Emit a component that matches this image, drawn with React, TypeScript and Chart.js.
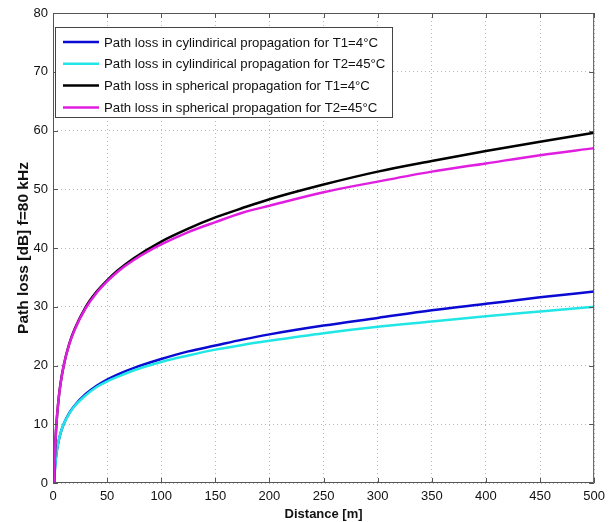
import React, { useEffect, useRef } from "react";
import { Chart, registerables } from "chart.js";

Chart.register(...registerables);

const distances = [1, 2, 3, 5, 7, 10, 15, 20, 30, 40, 50, 60, 75, 100, 125, 150, 175, 200, 250, 300, 350, 400, 450, 500];
const cylT1 = [0.0, 3.0, 4.8, 7.0, 8.5, 10.1, 11.9, 13.2, 15.1, 16.5, 17.6, 18.5, 19.6, 21.1, 22.4, 23.4, 24.4, 25.3, 26.8, 28.1, 29.4, 30.5, 31.6, 32.6];
const cylT2 = [0.0, 3.0, 4.8, 7.0, 8.5, 10.1, 11.8, 13.1, 14.9, 16.3, 17.3, 18.1, 19.2, 20.6, 21.7, 22.7, 23.5, 24.2, 25.5, 26.6, 27.5, 28.4, 29.2, 30.0];
const sphT1 = [0.0, 6.0, 9.6, 14.0, 17.0, 20.1, 23.7, 26.2, 29.9, 32.5, 34.5, 36.2, 38.3, 41.1, 43.3, 45.2, 46.8, 48.3, 50.8, 53.0, 54.8, 56.5, 58.1, 59.6];
const sphT2 = [0.0, 6.0, 9.6, 14.0, 16.9, 20.1, 23.6, 26.1, 29.7, 32.3, 34.3, 36.0, 38.0, 40.6, 42.7, 44.4, 46.0, 47.2, 49.5, 51.3, 53.0, 54.4, 55.8, 57.0];

const seriesLabels = [
  "Path loss in cylindirical propagation for T1=4°C",
  "Path loss in cylindirical propagation for T2=45°C",
  "Path loss in spherical propagation for T1=4°C",
  "Path loss in spherical propagation for T2=45°C",
];
const seriesColors = ["#0a0ad2", "#22e6e6", "#000000", "#e01ee0"];
const seriesValues = [cylT1, cylT2, sphT1, sphT2];

const xTicks = [0, 50, 100, 150, 200, 250, 300, 350, 400, 450, 500];
const yTicks = [0, 10, 20, 30, 40, 50, 60, 70, 80];

const FONT = "'Liberation Sans', Arial, sans-serif";

const framePlugin = {
  id: "frameAndLegend",
  afterDraw(chart: any) {
    const { ctx, chartArea } = chart;
    const { left, right, top, bottom } = chartArea;
    const xs = chart.scales.x;
    const ys = chart.scales.y;
    ctx.save();
    ctx.strokeStyle = "#555555";
    ctx.lineWidth = 1;
    ctx.beginPath();
    ctx.rect(left + 0.5, top + 0.5, right - left - 1, bottom - top - 1);
    ctx.stroke();
    ctx.beginPath();
    for (const t of xTicks) {
      const px = Math.round(xs.getPixelForValue(t)) + 0.5;
      ctx.moveTo(px, bottom);
      ctx.lineTo(px, bottom - 5);
      ctx.moveTo(px, top);
      ctx.lineTo(px, top + 5);
    }
    for (const t of yTicks) {
      const py = Math.round(ys.getPixelForValue(t)) + 0.5;
      ctx.moveTo(left, py);
      ctx.lineTo(left + 5, py);
      ctx.moveTo(right, py);
      ctx.lineTo(right - 5, py);
    }
    ctx.stroke();

    // legend
    const bx = 55, by = 27, bw = 337, bh = 90;
    ctx.fillStyle = "#ffffff";
    ctx.fillRect(bx, by, bw, bh);
    ctx.strokeStyle = "#444444";
    ctx.lineWidth = 1;
    ctx.strokeRect(bx + 0.5, by + 0.5, bw, bh);
    ctx.font = "13.2px " + FONT;
    ctx.textBaseline = "middle";
    ctx.textAlign = "left";
    for (let i = 0; i < seriesLabels.length; i++) {
      const cy = 42 + i * 21.8;
      ctx.strokeStyle = seriesColors[i];
      ctx.lineWidth = 2.5;
      ctx.beginPath();
      ctx.moveTo(63, cy);
      ctx.lineTo(99, cy);
      ctx.stroke();
      ctx.fillStyle = "#111111";
      ctx.fillText(seriesLabels[i], 104, cy + 1);
    }
    ctx.restore();
  },
};

export default function App() {
  const ref = useRef<HTMLCanvasElement | null>(null);
  useEffect(() => {
    if (!ref.current) return;
    const chart = new Chart(ref.current, {
      type: "line",
      data: {
        datasets: seriesValues.map((vals, i) => ({
          label: seriesLabels[i],
          data: distances.map((d, j) => ({ x: d, y: vals[j] })),
          borderColor: seriesColors[i],
          backgroundColor: seriesColors[i],
          borderWidth: 2.5,
          pointRadius: 0,
          cubicInterpolationMode: "monotone" as const,
          fill: false,
          order: 4 - i,
        })),
      },
      options: {
        animation: false,
        responsive: false,
        maintainAspectRatio: false,
        layout: { padding: { top: 13, right: 15, left: 14, bottom: 0 } },
        plugins: {
          legend: { display: false },
          tooltip: { enabled: false },
        },
        scales: {
          x: {
            type: "linear",
            min: 0,
            max: 500,
            afterBuildTicks: (s: any) => {
              s.ticks = xTicks.map((v) => ({ value: v }));
            },
            afterFit: (s: any) => {
              s.height = 39;
            },
            border: { display: false, dash: [1, 3] },
            grid: {
              color: "rgba(80,80,80,0.4)",
              lineWidth: 1,
              drawTicks: false,
            },
            ticks: {
              color: "#111",
              font: { family: FONT, size: 13 },
              padding: 6,
              maxRotation: 0,
            },
            title: {
              display: true,
              text: "Distance [m]",
              color: "#111",
              font: { family: FONT, size: 13, weight: "bold" },
              padding: { top: 0, bottom: 0 },
            },
          },
          y: {
            type: "linear",
            min: 0,
            max: 80,
            afterBuildTicks: (s: any) => {
              s.ticks = yTicks.map((v) => ({ value: v }));
            },
            afterFit: (s: any) => {
              s.width = 39;
            },
            border: { display: false, dash: [1, 3] },
            grid: {
              color: "rgba(80,80,80,0.4)",
              lineWidth: 1,
              drawTicks: false,
            },
            ticks: {
              color: "#111",
              font: { family: FONT, size: 13 },
              padding: 5,
            },
            title: {
              display: true,
              text: "Path loss [dB] f=80 kHz",
              color: "#111",
              font: { family: FONT, size: 15.5, weight: "bold" },
              padding: { top: 0, bottom: 0 },
            },
          },
        },
      },
      plugins: [framePlugin],
    });
    return () => chart.destroy();
  }, []);
  return (
    <div style={{ position: "fixed", left: 0, top: 0, width: 611, height: 522, background: "#fff" }}>
      <canvas ref={ref} width={611} height={522} style={{ width: 611, height: 522 }} />
    </div>
  );
}
